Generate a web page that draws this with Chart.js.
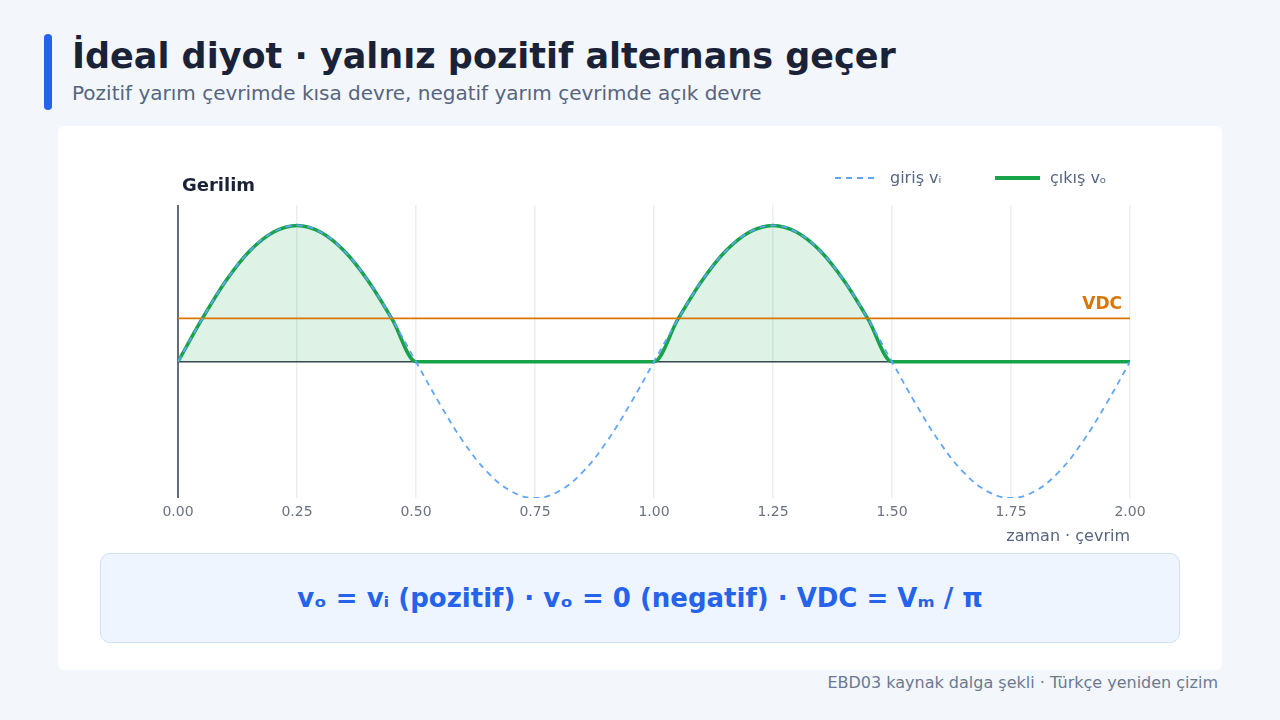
<!DOCTYPE html>
<html><head><meta charset="utf-8">
<script src="https://cdn.jsdelivr.net/npm/chart.js@4"></script>
<style>
body{margin:0;width:1280px;height:720px;background:#f3f6fb;font-family:"DejaVu Sans",sans-serif;position:relative;overflow:hidden}
.bar{position:absolute;left:44px;top:34px;width:8px;height:76px;border-radius:4px;background:#2563eb}
h1{position:absolute;left:72px;top:36px;margin:0;font-size:35px;font-weight:bold;color:#1a2238}
.sub{position:absolute;left:72px;top:81px;font-size:20px;color:#56657f}
.card{position:absolute;left:58px;top:126px;width:1164px;height:544px;background:#fff;border-radius:6px}
#c{position:absolute;left:120px;top:160px}
.yt{position:absolute;left:182px;top:174px;font-size:18px;font-weight:bold;color:#1a2238}
.leg{position:absolute;top:168px;font-size:16px;color:#56657f;display:flex;align-items:center}
.box{position:absolute;left:100px;top:553px;width:1078px;height:88px;background:#eef5ff;border:1px solid #cfe0fb;border-radius:10px;display:flex;align-items:center;justify-content:center;font-size:26px;font-weight:bold;color:#2563eb}
.foot{position:absolute;right:62px;top:673px;font-size:16px;color:#6b7a90}
</style></head><body>
<div class="bar"></div>
<h1>İdeal diyot · yalnız pozitif alternans geçer</h1>
<div class="sub">Pozitif yarım çevrimde kısa devre, negatif yarım çevrimde açık devre</div>
<div class="card"></div>
<canvas id="c" width="1060" height="390"></canvas>
<div class="yt">Gerilim</div>
<div class="leg" style="left:835px"><svg width="42" height="4" style="margin-right:13px"><line x1="0" y1="2" x2="42" y2="2" stroke="#60a5fa" stroke-width="2" stroke-dasharray="6,5"/></svg>giriş vᵢ</div>
<div class="leg" style="left:995px"><svg width="45" height="4" style="margin-right:10px"><line x1="0" y1="2" x2="45" y2="2" stroke="#16a34a" stroke-width="4"/></svg>çıkış vₒ</div>
<div class="box">vₒ = vᵢ (pozitif) · vₒ = 0 (negatif) · VDC = Vₘ / π</div>
<div class="foot">EBD03 kaynak dalga şekli · Türkçe yeniden çizim</div>
<script>
const times=[0,0.05,0.1,0.15,0.2,0.25,0.3,0.35,0.4,0.45,0.5,0.55,0.6,0.65,0.7,0.75,0.8,0.85,0.9,0.95,1,1.05,1.1,1.15,1.2,1.25,1.3,1.35,1.4,1.45,1.5,1.55,1.6,1.65,1.7,1.75,1.8,1.85,1.9,1.95,2];
const inputV=[0,0.31,0.59,0.81,0.95,1,0.95,0.81,0.59,0.31,0,-0.31,-0.59,-0.81,-0.95,-1,-0.95,-0.81,-0.59,-0.31,0,0.31,0.59,0.81,0.95,1,0.95,0.81,0.59,0.31,0,-0.31,-0.59,-0.81,-0.95,-1,-0.95,-0.81,-0.59,-0.31,0];
const outputV=[0,0.31,0.59,0.81,0.95,1,0.95,0.81,0.59,0.31,0,0,0,0,0,0,0,0,0,0,0,0.31,0.59,0.81,0.95,1,0.95,0.81,0.59,0.31,0,0,0,0,0,0,0,0,0,0,0];
const vdc=0.318;
const xTicks=[0,0.25,0.5,0.75,1,1.25,1.5,1.75,2];
const pts=a=>times.map((t,i)=>({x:t,y:a[i]}));
const deco={id:'deco',beforeDatasetsDraw(ch){const {ctx,chartArea:a,scales:{x,y}}=ch;ctx.save();ctx.strokeStyle='#374151';ctx.lineWidth=1.5;const y0=y.getPixelForValue(0);ctx.beginPath();ctx.moveTo(a.left,y0);ctx.lineTo(a.right,y0);ctx.moveTo(a.left,a.top);ctx.lineTo(a.left,a.bottom);ctx.stroke();ctx.restore();},
afterDatasetsDraw(ch){const {ctx,chartArea:a,scales:{y}}=ch;ctx.save();ctx.fillStyle='#d97706';ctx.font='bold 17px "DejaVu Sans"';ctx.textAlign='right';ctx.fillText('VDC',a.right-8,y.getPixelForValue(vdc)-9);ctx.restore();}};
new Chart(document.getElementById('c'),{type:'line',
data:{datasets:[
{data:pts(inputV),borderColor:'#60a5fa',borderWidth:1.8,borderDash:[6,5],pointRadius:0,tension:0.4},
{data:[{x:0,y:vdc},{x:2,y:vdc}],borderColor:'#d97706',borderWidth:1.8,pointRadius:0},
{data:pts(outputV),borderColor:'#16a34a',borderWidth:3.5,pointRadius:0,tension:0.4,cubicInterpolationMode:'monotone',fill:'origin',backgroundColor:'rgba(22,163,74,0.14)'}
]},
options:{responsive:false,animation:false,layout:{padding:{left:50,right:50,top:45,bottom:0}},
plugins:{legend:{display:false},tooltip:{enabled:false}},
scales:{x:{type:'linear',min:0,max:2,afterBuildTicks:s=>{s.ticks=xTicks.map(v=>({value:v}))},
ticks:{callback:v=>v.toFixed(2),color:'#6b7280',font:{size:14,family:'DejaVu Sans'},padding:6},
grid:{color:'#eceef1',lineWidth:1.5,drawTicks:false},border:{display:false},
title:{display:true,text:'zaman · çevrim',align:'end',color:'#56657f',font:{size:16,family:'DejaVu Sans'},padding:{top:0}}},
y:{min:-1,max:1.15,ticks:{display:false},grid:{display:false},border:{display:false}}}},
plugins:[deco]});
</script></body></html>
